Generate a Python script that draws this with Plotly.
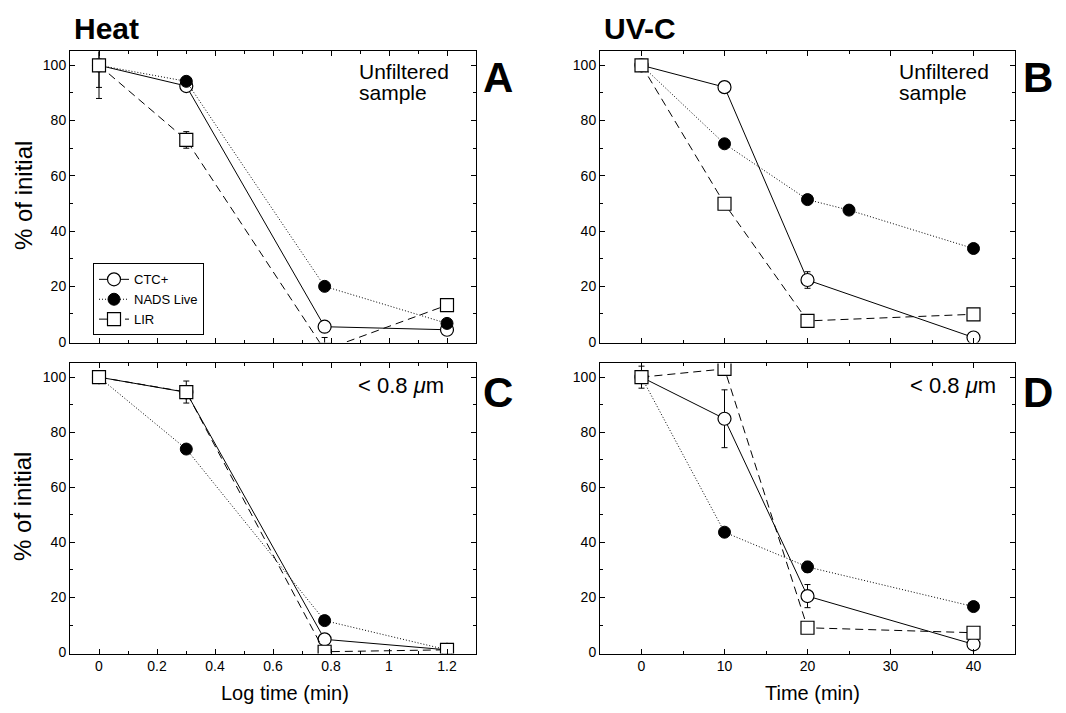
import plotly.graph_objects as go

# ---------------- data ----------------
heat_x = [0, 0.301, 0.778, 1.2]
uv_x = [0, 10, 20, 40]
uv_nads_x = [0, 10, 20, 25, 40]

# Panel A: Heat, unfiltered
a_ctc = [100, 92.5, 5.4, 4.3]
a_nads = [100, 94.2, 20.0, 6.6]
a_lir = [100, 73.0, -3.0, 13.2]
a_ctc_err = [8, 0, 0, 0]
a_lir_err = [12, 3, 4.5, 0]

# Panel B: UV-C, unfiltered
b_ctc = [100, 92.1, 22.3, 1.5]
b_nads = [100, 71.6, 51.4, 47.6, 33.7]
b_lir = [100, 49.9, 7.5, 9.9]
b_ctc_err = [0, 0, 3, 0]

# Panel C: Heat, < 0.8 um
c_ctc = [100, 94.5, 4.8, 1.0]
c_nads = [100, 73.9, 11.6, 1.0]
c_lir = [100, 94.6, 0.3, 1.0]
c_lir_err = [0, 4, 0, 0]

# Panel D: UV-C, < 0.8 um
d_ctc = [100, 84.9, 20.5, 3.0]
d_nads = [100, 43.7, 31.1, 16.7]
d_lir = [100, 103.0, 9.0, 7.2]
d_ctc_err = [4, 10.5, 4.2, 0]
d_nads_err = [0, 0, 2, 0]

series_names = ["CTC+", "NADS Live", "LIR"]
heat_ticks = [0, 0.2, 0.4, 0.6, 0.8, 1, 1.2]
heat_ticklabels = ["0", "0.2", "0.4", "0.6", "0.8", "1", "1.2"]
uv_ticks = [0, 10, 20, 30, 40]
y_ticks = [0, 20, 40, 60, 80, 100]

# ---------------- styles ----------------
ctc_style = dict(line=dict(color="black", width=1, dash="solid"),
                 marker=dict(symbol="circle", size=13, color="white",
                             line=dict(color="black", width=1.2)))
nads_style = dict(line=dict(color="black", width=1, dash="1px,2px"),
                  marker=dict(symbol="circle", size=12, color="black",
                              line=dict(color="black", width=1)))
lir_style = dict(line=dict(color="black", width=1, dash="8px,5px"),
                 marker=dict(symbol="square", size=13, color="white",
                             line=dict(color="black", width=1.2)))


def err(arr):
    return dict(type="data", array=arr, visible=True, color="black",
                thickness=1, width=3)


fig = go.Figure()

panels = [
    ("x", "y", heat_x, heat_x, a_ctc, a_nads, a_lir, a_ctc_err, None, a_lir_err, True),
    ("x2", "y2", uv_x, uv_nads_x, b_ctc, b_nads, b_lir, b_ctc_err, None, None, False),
    ("x3", "y3", heat_x, heat_x, c_ctc, c_nads, c_lir, None, None, c_lir_err, False),
    ("x4", "y4", uv_x, uv_x, d_ctc, d_nads, d_lir, d_ctc_err, d_nads_err, None, False),
]

for xa, ya, xs, xn, ctc, nads, lir, ce, ne, le, show in panels:
    fig.add_trace(go.Scatter(x=xs, y=ctc, mode="lines+markers", name=series_names[0],
                             xaxis=xa, yaxis=ya, showlegend=show, legendrank=1,
                             error_y=err(ce) if ce else None, **ctc_style))
    fig.add_trace(go.Scatter(x=xn, y=nads, mode="lines+markers", name=series_names[1],
                             xaxis=xa, yaxis=ya, showlegend=show, legendrank=2,
                             error_y=err(ne) if ne else None, **nads_style))
    fig.add_trace(go.Scatter(x=xs, y=lir, mode="lines+markers", name=series_names[2],
                             xaxis=xa, yaxis=ya, showlegend=show, legendrank=3,
                             error_y=err(le) if le else None, **lir_style))

W, H = 1066, 713
def px(xp):
    return xp / W
def py(yp):
    return 1 - yp / H

xdomL = [px(70), px(476)]
xdomR = [px(600), px(1015)]
ydomT = [py(346), py(52)]
ydomB = [py(660), py(367)]

font_family = "Liberation Sans, Arial, Helvetica, sans-serif"

axis_common = dict(showline=True, linecolor="black", linewidth=1, mirror="ticks",
                   ticks="inside", ticklen=5, tickwidth=1, tickcolor="black",
                   showgrid=False, zeroline=False,
                   tickfont=dict(family=font_family, size=14, color="black"))

def yaxis(dom, anchor):
    return dict(domain=dom, anchor=anchor, range=[-0.35, 105], tickvals=y_ticks,
                minor=dict(ticks="inside", ticklen=3, dtick=10, tick0=0,
                           tickcolor="black"),
                **axis_common)

def heat_axis(dom, anchor, labels):
    return dict(domain=dom, anchor=anchor, range=[-0.1, 1.3], tickvals=heat_ticks,
                ticktext=heat_ticklabels, showticklabels=labels,
                minor=dict(ticks="inside", ticklen=3, dtick=0.1, tick0=0,
                           tickcolor="black"),
                **axis_common)

def uv_axis(dom, anchor, labels):
    return dict(domain=dom, anchor=anchor, range=[-5, 45], tickvals=uv_ticks,
                showticklabels=labels,
                minor=dict(ticks="inside", ticklen=3, dtick=5, tick0=0,
                           tickcolor="black"),
                **axis_common)

fig.update_layout(
    width=W, height=H,
    margin=dict(l=0, r=0, t=0, b=0),
    paper_bgcolor="white", plot_bgcolor="white",
    font=dict(family=font_family, color="black"),
    xaxis=heat_axis(xdomL, "y", False),
    yaxis=yaxis(ydomT, "x"),
    xaxis2=uv_axis(xdomR, "y2", False),
    yaxis2=yaxis(ydomT, "x2"),
    xaxis3=heat_axis(xdomL, "y3", True),
    yaxis3=yaxis(ydomB, "x3"),
    xaxis4=uv_axis(xdomR, "y4", True),
    yaxis4=yaxis(ydomB, "x4"),
    legend=dict(x=px(93), y=py(266), xanchor="left", yanchor="top",
                bordercolor="black", borderwidth=1, bgcolor="white",
                font=dict(family=font_family, size=13, color="black"),
                tracegroupgap=0, itemwidth=30, traceorder="normal"),
    showlegend=True,
)

ann = []
def text(x, y, s, size, bold=False, xanchor="center", yanchor="middle", angle=0, align="center"):
    ann.append(dict(x=px(x), y=py(y), xref="paper", yref="paper", text=s,
                    showarrow=False, xanchor=xanchor, yanchor=yanchor, textangle=angle,
                    align=align,
                    font=dict(family=font_family, size=size, color="black",
                              weight="bold" if bold else "normal")))

text(72, 29, "Heat", 30, bold=True, xanchor="left")
text(602, 29, "UV-C", 30, bold=True, xanchor="left")
text(481, 78, "A", 42, bold=True, xanchor="left")
text(1021, 78, "B", 42, bold=True, xanchor="left")
text(481, 396, "C", 42, bold=True, xanchor="left")
text(1021, 396, "D", 42, bold=True, xanchor="left")
text(357, 72, "Unfiltered", 21, xanchor="left")
text(357, 93, "sample", 21, xanchor="left")
text(897, 72, "Unfiltered", 21, xanchor="left")
text(897, 93, "sample", 21, xanchor="left")
text(356, 389, "< 0.8 <i>μ</i>m", 22, xanchor="left")
text(908, 389, "< 0.8 <i>μ</i>m", 22, xanchor="left")
text(23, 198, "% of initial", 24, angle=-90)
text(23, 512, "% of initial", 24, angle=-90)
text(285, 700, "Log time (min)", 20)
text(812, 700, "Time (min)", 20)

fig.update_layout(annotations=ann)
fig.write_html("out.html", config={"displayModeBar": False},
               post_script="document.body.style.margin='0px';")
